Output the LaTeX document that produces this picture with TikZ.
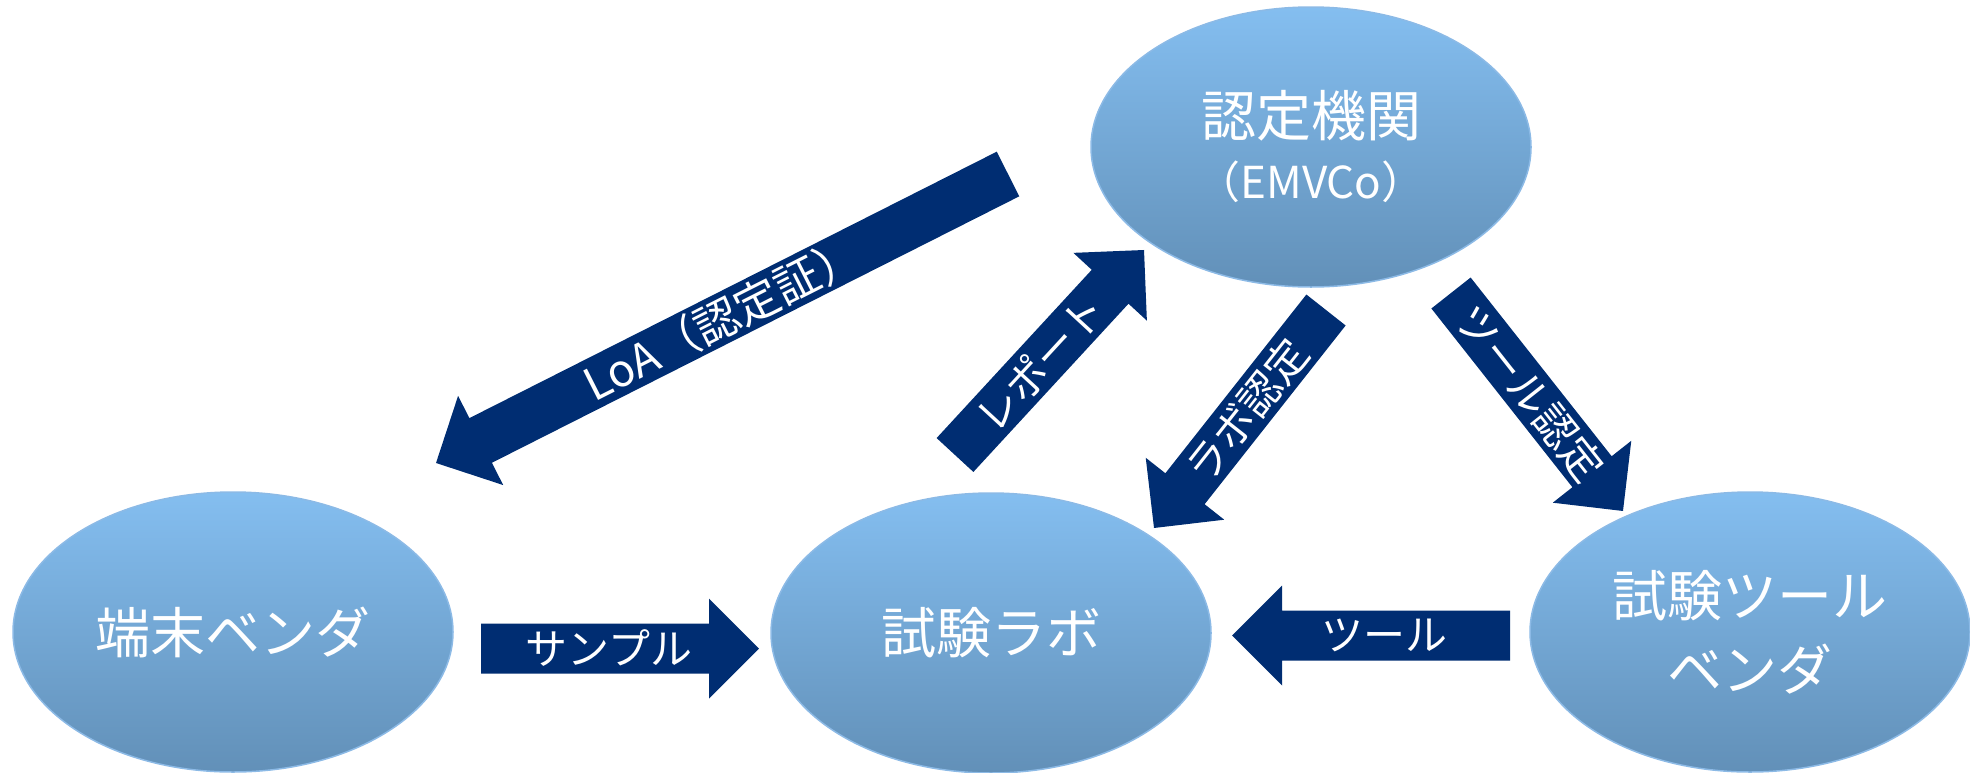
\documentclass[tikz,border=0pt]{standalone}
\usepackage{fontspec}
\setmainfont{Noto Sans CJK JP}
\usetikzlibrary{shapes.geometric,calc}
\definecolor{navy}{RGB}{0,45,114}
\definecolor{eltop}{RGB}{132,190,240}
\definecolor{elbot}{RGB}{98,144,184}
\definecolor{elline}{RGB}{140,186,230}
\tikzset{
  ell/.style={ellipse, minimum width=440pt, minimum height=280pt, inner sep=0pt,
    top color=eltop, bottom color=elbot, draw=elline, line width=1.5pt,
    text=white, font=\fontsize{55}{66}\selectfont, align=center},
  lbl/.style={text=white, font=\fontsize{42}{48}\selectfont, inner sep=0pt},
  biglbl/.style={lbl, font=\fontsize{45}{50}\selectfont},
}
\newcommand\blockarrow[5][lbl]{%
  \fill[navy] let \p1=($(#3)-(#2)$), \n1={atan2(\y1,\x1)}, \n2={veclen(\x1,\y1)} in
    [shift={(#2)}, rotate=\n1]
    (0pt,-25pt) -- (\n2-50pt,-25pt) -- (\n2-50pt,-50pt) -- (\n2+0pt,0pt) --
    (\n2-50pt,50pt) -- (\n2-50pt,25pt) -- (0pt,25pt) -- cycle;
  \path (#2) -- (#3) node[pos=#5, sloped, #1] {#4};}
\begin{document}
\begin{tikzpicture}[x=1pt,y=-1pt]
\useasboundingbox (0,0) rectangle (1970,772);
\node[ell] (cert) at (1311,147) {認定機関\\[-4pt]{\fontsize{44}{50}\selectfont （EMVCo）}};
\node[ell] (vendor) at (233,632) {端末ベンダ};
\node[ell] (lab) at (991,633) {試験ラボ};
\node[ell] (tool) at (1750,632) {試験ツール\\[8pt]ベンダ};
\coordinate (sT) at (481,648.5);  \coordinate (sH) at (759,648.5);
\coordinate (tT) at (1510,635.5); \coordinate (tH) at (1232,635.5);
\coordinate (lT) at (1008,174);   \coordinate (lH) at (436,463);
\coordinate (rT) at (955,455);    \coordinate (rH) at (1144,250);
\coordinate (bT) at (1326,310);   \coordinate (bH) at (1154,528);
\coordinate (cT) at (1451,293);   \coordinate (cH) at (1623,511);
\blockarrow{sT}{sH}{サンプル}{0.46}
\blockarrow{tT}{tH}{ツール}{0.45}
\blockarrow[biglbl]{lT}{lH}{LoA（認定証）}{0.5}
\blockarrow{rT}{rH}{レポート}{0.45}
\blockarrow{bT}{bH}{ラボ認定}{0.46}
\blockarrow{cT}{cH}{ツール認定}{0.46}
\end{tikzpicture}
\end{document}
